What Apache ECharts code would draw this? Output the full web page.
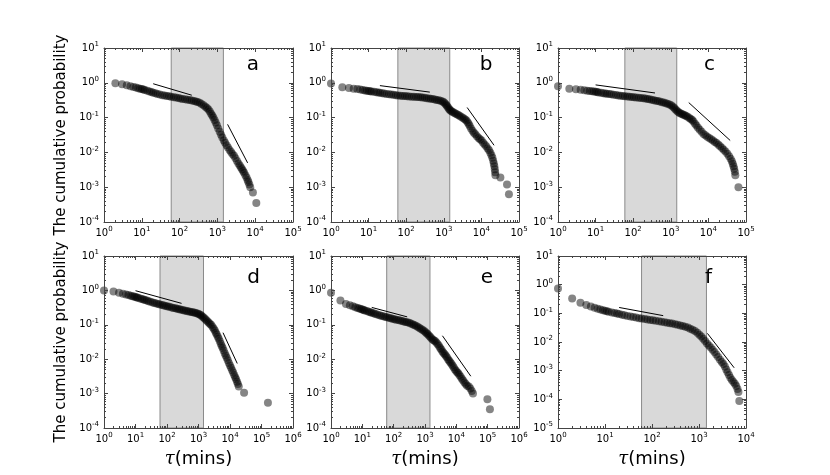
<!DOCTYPE html>
<html><head><meta charset="utf-8">
<script src="https://cdn.jsdelivr.net/npm/echarts@6/dist/echarts.min.js"></script>
<style>html,body{margin:0;padding:0;background:#fff}#c{width:830px;height:475px}</style>
</head><body><div id="c"></div>
<script>
// ---- data (tau in minutes, cumulative probability) ----
const dataA = [[2,0.97],[3,0.91],[4,0.85],[5,0.80],[6,0.76],[7,0.73],[8,0.70],[9,0.68],[10,0.66],[11,0.64],[12,0.62],[14,0.59],[16,0.56],[18,0.54],[20,0.52],[23,0.50],[26,0.48],[30,0.46],[35,0.44],[40,0.43],[46,0.42],[53,0.41],[60,0.40],[70,0.385],[80,0.375],[92,0.365],[105,0.355],[120,0.345],[140,0.335],[160,0.327],[185,0.32],[210,0.31],[240,0.30],[270,0.29],[300,0.28],[340,0.265],[380,0.245],[430,0.225],[480,0.205],[530,0.19],[580,0.17],[630,0.15],[680,0.13],[730,0.115],[780,0.10],[840,0.085],[900,0.072],[970,0.06],[1050,0.049],[1150,0.039],[1250,0.032],[1350,0.027],[1480,0.022],[1600,0.019],[1750,0.016],[1900,0.0138],[2100,0.0118],[2300,0.0102],[2500,0.009],[2750,0.008],[3000,0.0068],[3300,0.0057],[3600,0.0048],[3900,0.0042],[4200,0.0037],[4500,0.0033],[4800,0.0029],[5100,0.0026],[5500,0.0022],[5900,0.0019],[6300,0.0016],[6600,0.0014],[7000,0.0012],[7400,0.001],[8700,0.0007],[10700,0.00035]];
const dataB = [[1,0.95],[2,0.74],[3,0.71],[4,0.68],[5,0.66],[6,0.64],[7,0.62],[8,0.605],[9,0.595],[10,0.585],[11,0.575],[12,0.565],[14,0.55],[16,0.535],[18,0.525],[20,0.515],[23,0.50],[26,0.49],[30,0.48],[35,0.47],[40,0.46],[46,0.45],[53,0.44],[60,0.435],[70,0.428],[80,0.42],[92,0.415],[105,0.41],[120,0.405],[140,0.40],[160,0.397],[185,0.393],[210,0.39],[240,0.385],[270,0.378],[310,0.37],[350,0.362],[400,0.355],[450,0.347],[510,0.34],[580,0.33],[650,0.322],[730,0.313],[820,0.303],[920,0.29],[1000,0.275],[1080,0.255],[1150,0.235],[1220,0.215],[1300,0.195],[1380,0.178],[1460,0.165],[1560,0.155],[1680,0.147],[1820,0.14],[1980,0.133],[2150,0.126],[2350,0.12],[2550,0.114],[2800,0.107],[3100,0.1],[3400,0.094],[3700,0.088],[4000,0.082],[4300,0.074],[4600,0.065],[4900,0.057],[5300,0.049],[5800,0.042],[6300,0.037],[6900,0.033],[7600,0.029],[8400,0.026],[9200,0.024],[10100,0.022],[11100,0.019],[12200,0.017],[13400,0.015],[14700,0.013],[16000,0.0115],[17300,0.0098],[18500,0.0083],[19600,0.007],[20600,0.0058],[21400,0.0048],[22100,0.004],[22700,0.0033],[23200,0.0027],[23600,0.0022],[32000,0.0019],[48000,0.0012],[54000,0.00063]];
const dataC = [[1,0.80],[2,0.68],[3,0.65],[4,0.63],[5,0.61],[6,0.595],[7,0.58],[8,0.57],[9,0.56],[10,0.55],[11,0.54],[12,0.53],[14,0.515],[16,0.505],[18,0.495],[20,0.485],[23,0.475],[26,0.465],[30,0.455],[35,0.445],[40,0.435],[46,0.428],[53,0.42],[60,0.413],[70,0.405],[80,0.398],[92,0.39],[105,0.385],[120,0.378],[140,0.37],[160,0.365],[185,0.36],[210,0.352],[240,0.345],[270,0.337],[310,0.327],[350,0.317],[400,0.307],[450,0.298],[510,0.288],[580,0.278],[650,0.27],[730,0.26],[820,0.25],[920,0.238],[1020,0.225],[1120,0.21],[1220,0.192],[1320,0.175],[1430,0.16],[1550,0.148],[1680,0.138],[1820,0.131],[1980,0.126],[2150,0.121],[2350,0.116],[2550,0.111],[2800,0.105],[3100,0.098],[3400,0.091],[3700,0.085],[4000,0.077],[4400,0.067],[4800,0.059],[5300,0.051],[5900,0.045],[6600,0.039],[7400,0.034],[8300,0.031],[9300,0.028],[10500,0.026],[11800,0.024],[13200,0.022],[14800,0.02],[16500,0.0185],[18500,0.0165],[20500,0.015],[23000,0.0133],[25500,0.012],[28500,0.0106],[32000,0.0092],[35500,0.0078],[39000,0.0066],[42000,0.0056],[44500,0.0047],[46500,0.004],[48500,0.0034],[50500,0.0028],[52000,0.0022],[63000,0.001]];
const dataD = [[1,1.0],[2,0.93],[3,0.86],[4,0.80],[5,0.76],[6,0.73],[7,0.70],[8,0.68],[9,0.66],[10,0.64],[11,0.625],[12,0.61],[14,0.58],[16,0.56],[18,0.54],[20,0.525],[23,0.505],[26,0.485],[30,0.465],[35,0.445],[40,0.43],[46,0.415],[53,0.40],[60,0.39],[70,0.375],[80,0.363],[92,0.352],[105,0.342],[120,0.332],[140,0.32],[160,0.31],[185,0.302],[210,0.293],[240,0.285],[270,0.278],[310,0.27],[350,0.262],[400,0.255],[450,0.249],[510,0.243],[580,0.237],[650,0.232],[730,0.227],[820,0.221],[920,0.214],[1020,0.205],[1120,0.196],[1230,0.185],[1350,0.172],[1480,0.159],[1620,0.147],[1780,0.136],[1950,0.125],[2130,0.115],[2330,0.106],[2550,0.098],[2800,0.087],[3050,0.077],[3300,0.068],[3550,0.059],[3800,0.052],[4100,0.045],[4400,0.039],[4750,0.033],[5100,0.028],[5450,0.024],[5850,0.021],[6300,0.018],[6800,0.015],[7300,0.0128],[7900,0.011],[8500,0.0093],[9200,0.0078],[10000,0.0066],[10800,0.0056],[11700,0.0048],[12600,0.0041],[13600,0.0035],[14600,0.003],[15600,0.0026],[16700,0.0022],[17800,0.0019],[19000,0.0016],[28000,0.00105],[160000,0.00054]];
const dataE = [[1,0.85],[2,0.51],[3,0.40],[4,0.37],[5,0.345],[6,0.325],[7,0.31],[8,0.297],[9,0.286],[10,0.277],[11,0.27],[12,0.262],[14,0.25],[16,0.24],[18,0.232],[20,0.224],[23,0.215],[26,0.207],[30,0.199],[35,0.19],[40,0.183],[46,0.177],[53,0.171],[60,0.166],[70,0.16],[80,0.155],[92,0.15],[105,0.146],[120,0.141],[140,0.137],[160,0.133],[185,0.129],[210,0.125],[240,0.121],[270,0.118],[310,0.114],[350,0.11],[400,0.104],[450,0.099],[510,0.094],[580,0.088],[650,0.082],[730,0.077],[820,0.072],[920,0.067],[1020,0.062],[1120,0.057],[1230,0.053],[1350,0.048],[1480,0.044],[1620,0.040],[1780,0.037],[1950,0.035],[2130,0.033],[2330,0.03],[2550,0.027],[2800,0.024],[3050,0.021],[3300,0.019],[3600,0.0168],[3900,0.0152],[4250,0.014],[4600,0.0127],[5000,0.0113],[5450,0.01],[5900,0.009],[6400,0.0081],[6950,0.0074],[7550,0.0066],[8200,0.0058],[8900,0.0051],[9700,0.0046],[10600,0.0042],[11500,0.0039],[12500,0.0035],[13700,0.0031],[15000,0.0027],[16500,0.0024],[18200,0.0021],[20000,0.0019],[22000,0.0017],[25000,0.0016],[28000,0.0014],[31000,0.0012],[34000,0.001],[98000,0.00068],[118000,0.00035]];
const dataF = [[1,0.74],[2,0.33],[3,0.235],[4,0.195],[5,0.172],[6,0.157],[7,0.145],[8,0.136],[9,0.129],[10,0.123],[11,0.118],[12,0.114],[14,0.107],[16,0.102],[18,0.098],[20,0.094],[23,0.089],[26,0.085],[30,0.081],[35,0.077],[40,0.074],[46,0.071],[53,0.068],[60,0.066],[70,0.063],[80,0.061],[92,0.059],[105,0.057],[120,0.055],[140,0.053],[160,0.051],[185,0.049],[210,0.047],[240,0.045],[270,0.044],[310,0.042],[350,0.04],[400,0.038],[450,0.036],[510,0.034],[580,0.032],[650,0.029],[730,0.027],[820,0.024],[920,0.021],[1020,0.018],[1120,0.0155],[1230,0.013],[1350,0.0108],[1480,0.0089],[1620,0.0075],[1780,0.0064],[1950,0.0054],[2130,0.0045],[2330,0.0037],[2550,0.003],[2800,0.0024],[3050,0.002],[3300,0.0017],[3550,0.0014],[3800,0.0011],[4050,0.00088],[4350,0.00071],[4650,0.00057],[5000,0.00047],[5400,0.0004],[5800,0.00035],[6200,0.00029],[6600,0.00023],[6900,0.00018],[7200,0.000087]];

// fitted guide segments
const fitA = [[[20,0.94],[210,0.44]],[[1860,0.064],[6300,0.005]]];
const fitB = [[[20,0.83],[425,0.54]],[[4180,0.195],[21700,0.016]]];
const fitC = [[[10,0.87],[380,0.51]],[[3000,0.27],[38000,0.022]]];
const fitD = [[[10,0.98],[290,0.42]],[[6000,0.059],[17000,0.0075]]];
const fitE = [[[20,0.32],[270,0.17]],[[3600,0.048],[29000,0.0032]]];
const fitF = [[[20,0.16],[173,0.083]],[[1510,0.02],[5600,0.00126]]];

// shaded window (1 hour .. 1 day)
const shadeRange = [60, 1440];

// axis ranges (tick labels are the decades 10^k inside these ranges)
const xRangeA = [1, 1e5], xRangeB = [1, 1e5], xRangeC = [1, 1e5];
const xRangeD = [1, 1e6], xRangeE = [1, 1e6], xRangeF = [1, 1e4];
const yRangeA = [1e-4, 10], yRangeB = [1e-4, 10], yRangeC = [1e-4, 10];
const yRangeD = [1e-4, 10], yRangeE = [1e-4, 10], yRangeF = [1e-5, 10];
const panelLetters = ['a','b','c','d','e','f'];
const yTitle = 'The cumulative probability';
const xTitle = '{i|τ}(mins)';

// ---- layout ----
const gridBoxes = [[104,48,189,174],[331,48,188,174],[558,48,188,174],[104,256,189,172],[331,256,188,172],[558,256,188,172]];
const letterPos = [[253,65],[486,65],[709.5,65],[253.5,278],[487,278],[708.5,278]];

const panels = [
  {data:dataA, fits:fitA, x:xRangeA, y:yRangeA},
  {data:dataB, fits:fitB, x:xRangeB, y:yRangeB},
  {data:dataC, fits:fitC, x:xRangeC, y:yRangeC},
  {data:dataD, fits:fitD, x:xRangeD, y:yRangeD},
  {data:dataE, fits:fitE, x:xRangeE, y:yRangeE},
  {data:dataF, fits:fitF, x:xRangeF, y:yRangeF}
];

function decades(r){
  const a = Math.round(Math.log10(r[0])), b = Math.round(Math.log10(r[1]));
  const out = []; for (let e = a; e <= b; e++) out.push(Number('1e' + e)); return out;
}
function minors(r){
  const a = Math.round(Math.log10(r[0])), b = Math.round(Math.log10(r[1]));
  const out = []; for (let e = a; e < b; e++) for (let k = 2; k <= 9; k++) out.push(Number(k + 'e' + e)); return out;
}
const fmt = v => '{b|10}{s|' + Math.round(Math.log10(v)) + '}';
const rich = {
  b: {fontSize: 10, lineHeight: 14, color: '#000', fontFamily: 'DejaVu Sans'},
  s: {fontSize: 7, lineHeight: 8, verticalAlign: 'top', color: '#000', fontFamily: 'DejaVu Sans'}
};
const lineCol = '#444';

const option = {animation:false, textStyle:{fontFamily:'DejaVu Sans'}, grid:[], xAxis:[], yAxis:[], series:[], graphic:[]};

panels.forEach((p, i) => {
  const g = gridBoxes[i];
  option.grid.push({left:g[0], top:g[1], width:g[2], height:g[3], containLabel:false});
  const xMaj = decades(p.x), yMaj = decades(p.y), xMin = minors(p.x), yMin = minors(p.y);
  const base = (r) => ({type:'log', logBase:10, min:r[0], max:r[1], gridIndex:i, z:10,
    splitLine:{show:false}, axisLine:{show:true, onZero:false, lineStyle:{color:lineCol, width:1}}});
  const xi = option.xAxis.length, yi = option.yAxis.length;
  const bottomRow = i >= 3, leftCol = (i % 3) === 0;
  // x axes
  option.xAxis.push(Object.assign(base(p.x), {position:'bottom',
    axisTick:{show:true, inside:true, length:4, customValues:xMaj, lineStyle:{color:lineCol}},
    axisLabel:{show:true, customValues:xMaj, formatter:fmt, rich:rich, margin:4, hideOverlap:false, showMinLabel:true, showMaxLabel:true},
    name: bottomRow ? xTitle : '', nameLocation:'middle', nameGap:22,
    nameTextStyle:{fontSize:18, color:'#000', fontFamily:'DejaVu Sans', rich:{i:{fontSize:18, fontStyle:'italic', fontFamily:'DejaVu Serif', color:'#000'}}}}));
  option.xAxis.push(Object.assign(base(p.x), {position:'bottom', axisLine:{show:false, onZero:false},
    axisTick:{show:true, inside:true, length:2, customValues:xMin, lineStyle:{color:lineCol}}, axisLabel:{show:false}}));
  option.xAxis.push(Object.assign(base(p.x), {position:'top',
    axisTick:{show:true, inside:true, length:4, customValues:xMaj, lineStyle:{color:lineCol}}, axisLabel:{show:false}}));
  option.xAxis.push(Object.assign(base(p.x), {position:'top', axisLine:{show:false, onZero:false},
    axisTick:{show:true, inside:true, length:2, customValues:xMin, lineStyle:{color:lineCol}}, axisLabel:{show:false}}));
  // y axes
  option.yAxis.push(Object.assign(base(p.y), {position:'left',
    axisTick:{show:true, inside:true, length:4, customValues:yMaj, lineStyle:{color:lineCol}},
    axisLabel:{show:true, customValues:yMaj, formatter:fmt, rich:rich, margin:5, hideOverlap:false, showMinLabel:true, showMaxLabel:true},
    name: leftCol ? yTitle : '', nameLocation:'middle', nameRotate:90, nameGap:35,
    nameTextStyle:{fontSize:15, color:'#000', fontFamily:'DejaVu Sans'}}));
  option.yAxis.push(Object.assign(base(p.y), {position:'left', axisLine:{show:false, onZero:false},
    axisTick:{show:true, inside:true, length:2, customValues:yMin, lineStyle:{color:lineCol}}, axisLabel:{show:false}}));
  option.yAxis.push(Object.assign(base(p.y), {position:'right',
    axisTick:{show:true, inside:true, length:4, customValues:yMaj, lineStyle:{color:lineCol}}, axisLabel:{show:false}}));
  option.yAxis.push(Object.assign(base(p.y), {position:'right', axisLine:{show:false, onZero:false},
    axisTick:{show:true, inside:true, length:2, customValues:yMin, lineStyle:{color:lineCol}}, axisLabel:{show:false}}));

  // shaded window + fit segments
  p.fits.forEach((seg, k) => {
    const s = {type:'line', xAxisIndex:xi, yAxisIndex:yi, data:seg, symbol:'none', z:6, silent:true,
      lineStyle:{color:'#000', width:1}};
    if (k === 0) {
      s.markArea = {silent:true, z:1, itemStyle:{color:'#d9d9d9', borderColor:'#8a8a8a', borderWidth:1},
        data:[[{xAxis:shadeRange[0]}, {xAxis:shadeRange[1]}]]};
    }
    option.series.push(s);
  });
  option.series.push({type:'scatter', xAxisIndex:xi, yAxisIndex:yi, data:p.data, symbol:'circle', symbolSize:8, z:5,
    clip:true, silent:true, itemStyle:{color:'rgba(0,0,0,0.6)', borderWidth:0}});

  option.graphic.push({type:'text', x:letterPos[i][0], y:letterPos[i][1], z:20,
    style:{text:panelLetters[i], font:'20px "DejaVu Sans"', fill:'#000', align:'center', verticalAlign:'middle'}});
});

const chart = echarts.init(document.getElementById('c'), null, {renderer:'canvas'});
chart.setOption(option);
</script>
</body></html>
